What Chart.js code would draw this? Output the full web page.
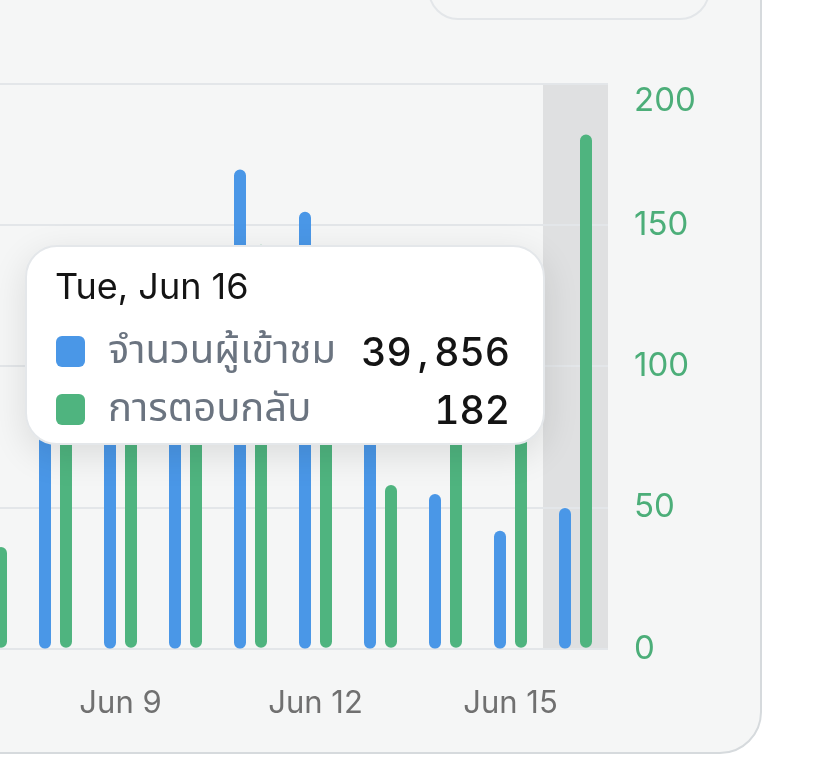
<!DOCTYPE html>
<html>
<head>
<meta charset="utf-8">
<script src="https://cdn.jsdelivr.net/npm/chart.js@4.4.1/dist/chart.umd.min.js"></script>
<style>
  html, body { margin:0; padding:0; background:#ffffff; width:816px; height:780px; overflow:hidden; }
  body { position:relative; font-family: Inter, "Noto Sans", "Noto Sans Thai", sans-serif; }
  .card { position:absolute; left:-100px; top:-100px; width:858px; height:850px; border:2px solid #d6dadd; border-radius:42px; background:#f5f6f6; }
  .topbox { position:absolute; left:428px; top:-60px; width:278px; height:76px; border:2px solid #e3e6e9; border-radius:30px; background:#f5f6f6; }
  #wrap { position:absolute; left:-42px; top:40px; }
  #tt { position:absolute; left:25px; top:245px; width:516px; height:196px; border:2px solid #e4e7ea; border-radius:32px; background:#ffffff; box-shadow:0 10px 36px rgba(0,0,0,0.11); display:none; color:#111; }
  #tt .title { position:absolute; left:28px; top:17px; font-size:36px; line-height:44px; color:#141414; white-space:nowrap; }
  #tt .row { position:absolute; left:29px; right:33px; height:40px; display:flex; align-items:center; }
  #tt .box { width:29px; height:31px; border-radius:6px; flex:none; }
  #tt .lab { margin-left:23px; font-size:40px; color:#6b7480; white-space:nowrap; flex:1; }
  #tt .val { font-size:39px; color:#141414; white-space:nowrap; font-variant-numeric: tabular-nums; font-weight:500; }
  #tt .val .c { margin:0 6px; }
</style>
</head>
<body>
<div class="card"></div>
<div class="topbox"></div>
<div id="wrap"><canvas id="c" width="750" height="727"></canvas></div>
<div id="tt"></div>
<script>
// ---- data ----
const categories = ['Jun 7','Jun 8','Jun 9','Jun 10','Jun 11','Jun 12','Jun 13','Jun 14','Jun 15','Jun 16'];
const weekdays   = ['Sun','Mon','Tue','Wed','Thu','Fri','Sat','Sun','Mon','Tue'];
const visitors   = [30000, 88000, 95000, 82000, 135700, 123700, 76000, 43800, 33400, 39856];
const replies    = [36, 105, 118, 98, 143, 112, 58, 92, 120, 182];
const seriesNames = ['จำนวนผู้เข้าชม', 'การตอบกลับ'];
const replyTicks = [0, 50, 100, 150, 200];
const activeIndex = 9;

const BLUE = '#4a97e7';
const GREEN = '#4fb47f';

const bandPlugin = {
  id: 'band',
  beforeDraw(chart) {
    const x = chart.scales.x, a = chart.chartArea, ctx = chart.ctx;
    const w = x.getPixelForValue(1) - x.getPixelForValue(0);
    const cx = x.getPixelForValue(activeIndex);
    ctx.save();
    ctx.fillStyle = '#dfe0e1';
    ctx.fillRect(cx - w / 2, a.top, w, a.bottom - a.top);
    ctx.restore();
  }
};

function fmt(v) {
  return v.toLocaleString('en-US').split(',').join('<span class="c">,</span>');
}

function externalTooltip(context) {
  const t = context.tooltip;
  const el = document.getElementById('tt');
  if (!t || t.opacity === 0 || !t.dataPoints) { el.style.display = 'none'; return; }
  let html = '<div class="title">' + (t.title || []).join(' ') + '</div>';
  const tops = [84, 142];
  t.dataPoints.forEach((dp, i) => {
    const col = dp.dataset.backgroundColor;
    html += '<div class="row" style="top:' + tops[i] + 'px"><div class="box" style="background:' + col + '"></div>' +
            '<div class="lab">' + dp.dataset.label + '</div><div class="val">' + fmt(dp.raw) + '</div></div>';
  });
  el.innerHTML = html;
  el.style.display = 'block';
}

const chart = new Chart(document.getElementById('c'), {
  type: 'bar',
  data: {
    labels: categories,
    datasets: [
      { label: seriesNames[0], data: visitors, yAxisID: 'yV', backgroundColor: BLUE, hoverBackgroundColor: BLUE,
        borderRadius: 6, borderSkipped: false, categoryPercentage: 0.646, barPercentage: 0.571 },
      { label: seriesNames[1], data: replies, yAxisID: 'yR', backgroundColor: GREEN, hoverBackgroundColor: GREEN,
        borderRadius: 6, borderSkipped: false, categoryPercentage: 0.646, barPercentage: 0.571 }
    ]
  },
  options: {
    responsive: false,
    animation: false,
    events: [],
    layout: { padding: 0 },
    plugins: {
      legend: { display: false },
      tooltip: {
        enabled: false,
        mode: 'index',
        external: externalTooltip,
        callbacks: { title: items => weekdays[items[0].dataIndex] + ', ' + categories[items[0].dataIndex] }
      }
    },
    scales: {
      x: {
        grid: { display: false },
        border: { display: false },
        ticks: {
          color: '#707070', font: { family: 'Inter', size: 31 }, padding: 28,
          autoSkip: false, maxRotation: 0,
          callback: (v, i) => (parseInt(categories[i].split(' ')[1]) % 3 === 0 ? categories[i] : '')
        }
      },
      yV: { position: 'left', display: false, min: 0, max: 160000 },
      yR: {
        position: 'right', min: 0, max: 200,
        afterBuildTicks: s => { s.ticks = replyTicks.map(v => ({ value: v })); },
        afterFit: s => { s.width = 100; },
        grid: { color: '#e3e6e9', lineWidth: 2, drawTicks: false },
        border: { display: false },
        ticks: {
          color: '#4cae79', font: { family: 'Inter', size: 33, lineHeight: 1.05 }, padding: 26,
          callback: v => (v === replyTicks[replyTicks.length - 1] ? ['', String(v)] : String(v))
        }
      }
    }
  },
  plugins: [bandPlugin]
});

// place chart so its plot area sits where the reference shows it
const wrap = document.getElementById('wrap');
wrap.style.left = (608 - chart.chartArea.right) + 'px';
wrap.style.top = (84 - chart.chartArea.top) + 'px';

const act = [{ datasetIndex: 0, index: activeIndex }, { datasetIndex: 1, index: activeIndex }];
chart.setActiveElements(act);
chart.tooltip.setActiveElements(act, { x: 574, y: 400 });
chart.update();
</script>
</body>
</html>
